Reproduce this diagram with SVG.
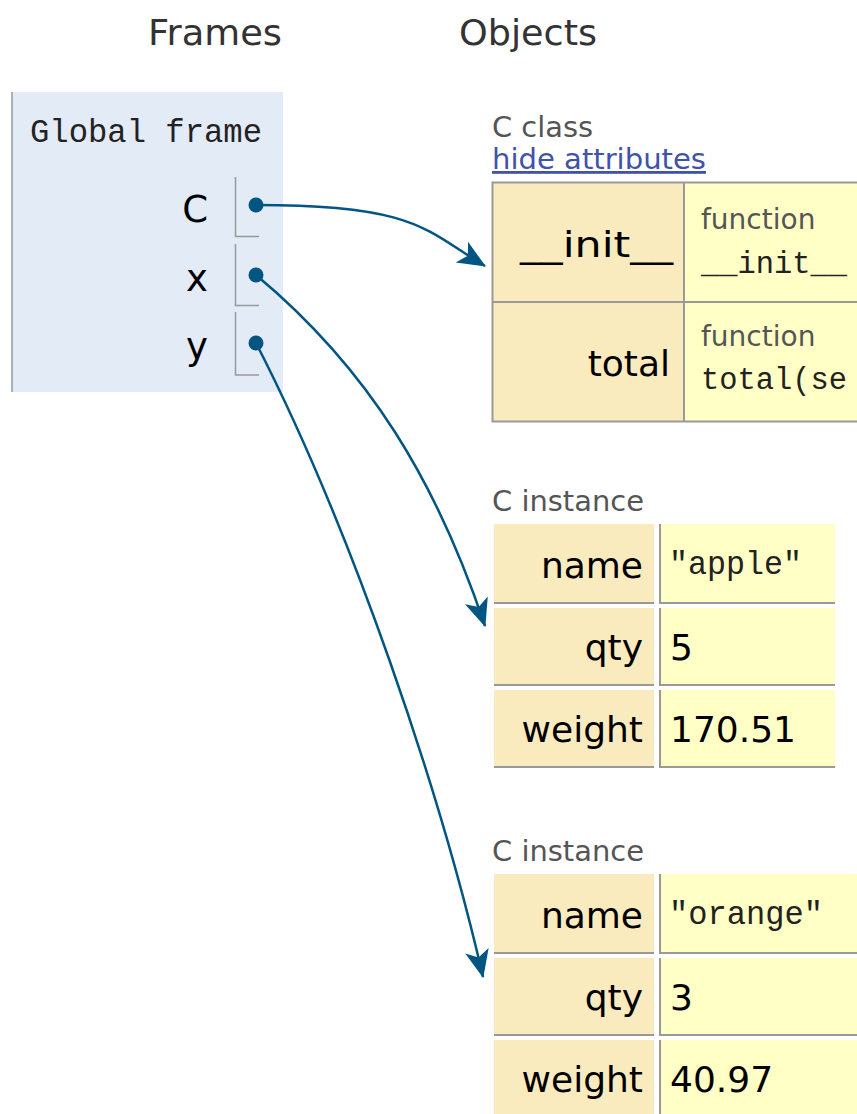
<svg xmlns="http://www.w3.org/2000/svg" width="857" height="1114" viewBox="0 0 857 1114">
<style>
.hdr{font-family:"DejaVu Sans",Verdana,sans-serif;font-size:36px;fill:#333}
.type{font-family:"DejaVu Sans",Verdana,sans-serif;font-size:28px;fill:#555}
.link{font-family:"DejaVu Sans",Verdana,sans-serif;font-size:28px;fill:#4053a8;text-decoration:underline}
.key{font-family:"DejaVu Sans",Verdana,sans-serif;font-size:36px;fill:#000;text-anchor:end}
.val{font-family:"DejaVu Sans",Verdana,sans-serif;font-size:36px;fill:#000}
.mono{font-family:"Liberation Mono","DejaVu Sans Mono",monospace;font-size:33px;fill:#222}
.fn{font-family:"Liberation Mono","DejaVu Sans Mono",monospace;font-size:31px;fill:#222}
.var{font-family:"DejaVu Sans",Verdana,sans-serif;font-size:37px;fill:#000;text-anchor:end}
.kcell{fill:#faebbf}
.vcell{fill:#ffffc6}
.grid{stroke:#999;stroke-width:2;fill:none}
.ptr{stroke:#999;stroke-width:1.5;fill:none}
.dot{fill:#005583}
.arrow{stroke:#005583;stroke-width:2.5;fill:none;marker-end:url(#ah)}
</style>
<defs>
<marker id="ah" markerUnits="userSpaceOnUse" markerWidth="32" markerHeight="28" viewBox="-30 -14 32 28" refX="0" refY="0" orient="auto">
<path d="M1,0 L-27,-12 L-20,0 L-27,12 Z" fill="#005583"/>
</marker>
</defs>
<rect width="857" height="1114" fill="#fff"/>
<g id="headers">
<text class="hdr" x="148" y="45" textLength="134" lengthAdjust="spacingAndGlyphs">Frames</text>
<text class="hdr" x="459" y="45" textLength="138" lengthAdjust="spacingAndGlyphs">Objects</text>
</g>
<g id="global-frame">
<rect x="11" y="92" width="272" height="300" fill="#e2ebf6"/>
<line x1="12" y1="92" x2="12" y2="392" stroke="#a6b3b6" stroke-width="2"/>
<text class="mono" x="30" y="142" textLength="232" lengthAdjust="spacingAndGlyphs">Global frame</text>
<text class="var" x="208" y="222">C</text>
<path class="ptr" d="M235.5,177 V236.5 H259"/>
<text class="var" x="208" y="291">x</text>
<path class="ptr" d="M235.5,244 V305.5 H259"/>
<text class="var" x="208" y="359">y</text>
<path class="ptr" d="M235.5,312 V375 H259"/>
<circle class="dot" cx="256" cy="205" r="7.5"/>
<circle class="dot" cx="256" cy="275" r="7.5"/>
<circle class="dot" cx="256" cy="343" r="7.5"/>
</g>
<g id="class-C">
<text class="type" x="492" y="137" textLength="101" lengthAdjust="spacingAndGlyphs">C class</text>
<text class="link" x="492" y="169" textLength="214" lengthAdjust="spacingAndGlyphs">hide attributes</text>
<rect class="kcell" x="493" y="182" width="191" height="240"/>
<rect class="vcell" x="684" y="182" width="173" height="240"/>
<path class="grid" d="M857,182.5 H492.5 V421.5 H857 M492.5,302 H857 M684,182.5 V421.5"/>
<text class="key" x="673" y="257" textLength="153" lengthAdjust="spacingAndGlyphs">__init__</text>
<text class="key" x="670" y="376">total</text>
<text class="type" x="701" y="229">function</text>
<text class="fn" x="701" y="273" textLength="146" lengthAdjust="spacingAndGlyphs">__init__</text>
<text class="type" x="701" y="346">function</text>
<text class="fn" x="701" y="389" textLength="146" lengthAdjust="spacingAndGlyphs">total(se</text>
</g>
<g id="instance-x">
<text class="type" x="492" y="511" textLength="152" lengthAdjust="spacingAndGlyphs">C instance</text>
<rect class="kcell" x="494" y="524" width="160" height="80"/>
<rect class="vcell" x="659" y="524" width="176" height="80"/>
<rect class="kcell" x="494" y="608" width="160" height="78"/>
<rect class="vcell" x="659" y="608" width="176" height="78"/>
<rect class="kcell" x="494" y="690" width="160" height="78"/>
<rect class="vcell" x="659" y="690" width="176" height="78"/>
<path class="grid" d="M494,603 H654 M494,685 H654 M494,767 H654 M659,603 H835 M659,685 H835 M659,767 H835 M660,524 V604 M660,608 V686 M660,690 V768"/>
<text class="key" x="643" y="578">name</text>
<text class="key" x="643" y="660">qty</text>
<text class="key" x="643" y="742">weight</text>
<text class="mono" x="669" y="574" textLength="133" lengthAdjust="spacingAndGlyphs">"apple"</text>
<text class="val" x="670" y="660">5</text>
<text class="val" x="670" y="742">170.51</text>
</g>
<g id="instance-y">
<text class="type" x="492" y="861" textLength="152" lengthAdjust="spacingAndGlyphs">C instance</text>
<rect class="kcell" x="494" y="874" width="160" height="80"/>
<rect class="vcell" x="659" y="874" width="198" height="80"/>
<rect class="kcell" x="494" y="958" width="160" height="78"/>
<rect class="vcell" x="659" y="958" width="198" height="78"/>
<rect class="kcell" x="494" y="1040" width="160" height="74"/>
<rect class="vcell" x="659" y="1040" width="198" height="74"/>
<path class="grid" d="M494,953 H654 M494,1035 H654 M659,953 H857 M659,1035 H857 M660,874 V954 M660,958 V1036 M660,1040 V1114"/>
<text class="key" x="643" y="928">name</text>
<text class="key" x="643" y="1010">qty</text>
<text class="key" x="643" y="1092">weight</text>
<text class="mono" x="669" y="924" textLength="154" lengthAdjust="spacingAndGlyphs">"orange"</text>
<text class="val" x="670" y="1010">3</text>
<text class="val" x="670" y="1092">40.97</text>
</g>
<g id="connectors">
<path class="arrow" d="M256,205 C416,205 425,230 485,266"/>
<path class="arrow" d="M256,275 C370,370 437,483 485,626"/>
<path class="arrow" d="M256,343 C352,530 440,790 483,977"/>
</g>
</svg>
